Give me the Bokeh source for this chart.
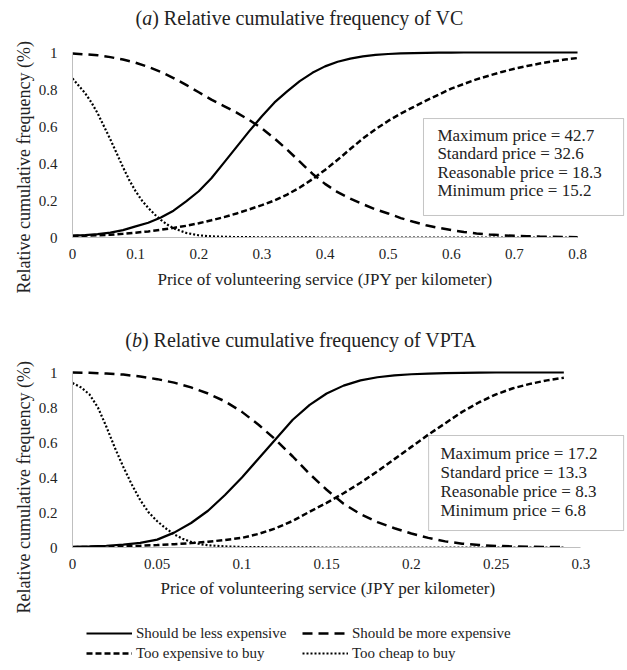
import math
from bokeh.plotting import figure
from bokeh.models import Range1d, FixedTicker, Label, BoxAnnotation, Legend, LegendItem, Title
from bokeh.layouts import column
from bokeh.embed import file_html
from bokeh.resources import INLINE

FONT = "Liberation Serif"
INK = "#222222"
AXIS_GRAY = "#bfbfbf"

# ---------------- data ----------------
series_names = ["Should be less expensive", "Should be more expensive",
                "Too expensive to buy", "Too cheap to buy"]
box_names = ["Maximum price", "Standard price", "Reasonable price", "Minimum price"]

# (a) VC
vc_title = "Relative cumulative frequency of VC"
vc_prices = [42.7, 32.6, 18.3, 15.2]
vc_x = [0.00, 0.02, 0.04, 0.06, 0.08, 0.10, 0.12, 0.14, 0.16, 0.18, 0.20,
        0.22, 0.24, 0.26, 0.28, 0.30, 0.32, 0.34, 0.36, 0.38, 0.40,
        0.42, 0.44, 0.46, 0.48, 0.50, 0.52, 0.54, 0.56, 0.58, 0.60,
        0.62, 0.64, 0.66, 0.68, 0.70, 0.72, 0.74, 0.76, 0.78, 0.80]
vc_less = [0.010, 0.013, 0.018, 0.026, 0.040, 0.060, 0.080, 0.108, 0.145, 0.195, 0.250,
           0.320, 0.405, 0.490, 0.575, 0.655, 0.730, 0.790, 0.845, 0.890, 0.925,
           0.950, 0.967, 0.979, 0.987, 0.992, 0.995, 0.997, 0.998, 0.999, 0.999,
           1.0, 1.0, 1.0, 1.0, 1.0, 1.0, 1.0, 1.0, 1.0, 1.0]
vc_more = [0.995, 0.990, 0.985, 0.975, 0.962, 0.945, 0.922, 0.895, 0.862, 0.825, 0.785,
           0.745, 0.710, 0.675, 0.635, 0.590, 0.535, 0.475, 0.410, 0.345, 0.290,
           0.245, 0.210, 0.180, 0.152, 0.130, 0.105, 0.085, 0.066, 0.052, 0.040,
           0.030, 0.022, 0.016, 0.012, 0.009, 0.007, 0.005, 0.004, 0.003, 0.002]
vc_exp = [0.008, 0.010, 0.012, 0.015, 0.020, 0.026, 0.033, 0.042, 0.052, 0.063, 0.077,
          0.093, 0.110, 0.130, 0.152, 0.175, 0.200, 0.232, 0.270, 0.315, 0.365,
          0.420, 0.478, 0.535, 0.585, 0.630, 0.670, 0.705, 0.740, 0.772, 0.805,
          0.830, 0.855, 0.875, 0.895, 0.912, 0.927, 0.940, 0.952, 0.962, 0.970]
vc_cheap_x = [0.00, 0.01, 0.02, 0.03, 0.04, 0.05, 0.06, 0.07, 0.08, 0.09, 0.10,
              0.11, 0.12, 0.13, 0.14, 0.15, 0.16, 0.18, 0.20, 0.22, 0.25,
              0.30, 0.40, 0.50, 0.60, 0.70, 0.80]
vc_cheap = [0.86, 0.82, 0.78, 0.73, 0.67, 0.60, 0.53, 0.455, 0.38, 0.31, 0.25,
            0.20, 0.16, 0.125, 0.095, 0.07, 0.05, 0.025, 0.012, 0.006, 0.003,
            0.001, 0.0, 0.0, 0.0, 0.0, 0.0]
vc_xticks = [0, 0.1, 0.2, 0.3, 0.4, 0.5, 0.6, 0.7, 0.8]
vc_xlabels = ["0", "0.1", "0.2", "0.3", "0.4", "0.5", "0.6", "0.7", "0.8"]

# (b) VPTA
vp_title = "Relative cumulative frequency of VPTA"
vp_prices = [17.2, 13.3, 8.3, 6.8]
vp_x = [0.00, 0.01, 0.02, 0.03, 0.04, 0.05, 0.06, 0.07, 0.08, 0.09,
        0.10, 0.11, 0.12, 0.13, 0.14, 0.15, 0.16, 0.17, 0.18, 0.19,
        0.20, 0.21, 0.22, 0.23, 0.24, 0.25, 0.26, 0.27, 0.28, 0.29]
vp_less = [0.004, 0.006, 0.010, 0.016, 0.026, 0.045, 0.085, 0.140, 0.210, 0.300,
           0.400, 0.510, 0.620, 0.730, 0.815, 0.880, 0.925, 0.955, 0.973, 0.984,
           0.990, 0.994, 0.996, 0.998, 0.999, 1.0, 1.0, 1.0, 1.0, 1.0]
vp_more = [1.000, 0.998, 0.994, 0.988, 0.977, 0.962, 0.942, 0.915, 0.880, 0.835,
           0.775, 0.700, 0.615, 0.520, 0.420, 0.330, 0.250, 0.190, 0.145, 0.110,
           0.080, 0.055, 0.035, 0.022, 0.014, 0.009, 0.006, 0.004, 0.003, 0.002]
vp_exp = [0.002, 0.003, 0.005, 0.007, 0.010, 0.014, 0.019, 0.025, 0.033, 0.043,
          0.055, 0.078, 0.110, 0.152, 0.205, 0.255, 0.310, 0.370, 0.435, 0.505,
          0.575, 0.645, 0.710, 0.775, 0.830, 0.875, 0.910, 0.935, 0.955, 0.970]
vp_cheap_x = [0.000, 0.005, 0.010, 0.015, 0.020, 0.025, 0.030, 0.035, 0.040, 0.045,
              0.050, 0.055, 0.060, 0.065, 0.070, 0.075, 0.080, 0.090, 0.100, 0.120,
              0.150, 0.200, 0.250, 0.290]
vp_cheap = [0.94, 0.915, 0.875, 0.80, 0.69, 0.57, 0.46, 0.36, 0.27, 0.20,
            0.15, 0.11, 0.075, 0.05, 0.032, 0.02, 0.013, 0.006, 0.003, 0.001,
            0.0, 0.0, 0.0, 0.0]
vp_xticks = [0, 0.05, 0.1, 0.15, 0.2, 0.25, 0.3]
vp_xlabels = ["0", "0.05", "0.1", "0.15", "0.2", "0.25", "0.3"]

yticks = [0, 0.2, 0.4, 0.6, 0.8, 1]
ylabels = ["0", "0.2", "0.4", "0.6", "0.8", "1"]

x_title = "Price of volunteering service (JPY per kilometer)"
y_title = "Relative cumulative frequency (%)"

STYLES = [
    dict(line_color="black", line_width=2.2),
    dict(line_color="black", line_width=2.5, line_dash="10 6"),
    dict(line_color="black", line_width=2.5, line_dash="6 3"),
    dict(line_color="black", line_width=2.2, line_dash="2 2"),
]


def style_axes(p, xticks, xlabels, xmax):
    p.xgrid.visible = False
    p.ygrid.visible = False
    p.outline_line_color = None
    for ax in (p.xaxis[0], p.yaxis[0]):
        ax.axis_line_color = AXIS_GRAY
        ax.axis_line_width = 1
        ax.major_tick_line_color = None
        ax.minor_tick_line_color = None
        ax.major_tick_out = 0
        ax.major_tick_in = 0
        ax.major_label_text_font = FONT
        ax.major_label_text_font_size = "15px"
        ax.major_label_text_color = INK
    p.xaxis.ticker = FixedTicker(ticks=xticks)
    p.xaxis.major_label_overrides = dict(zip(xticks, xlabels))
    p.xaxis.bounds = (0, xmax)
    p.xaxis.major_label_standoff = 11
    p.yaxis.ticker = FixedTicker(ticks=yticks)
    p.yaxis.major_label_overrides = dict(zip(yticks, ylabels))
    p.yaxis.bounds = (0, 1)
    p.yaxis.major_label_standoff = 15


def panel(height, left, x_end, y_end, bottom_border,
          curves, xticks, xlabels, xmax, letter, title, title_x, title_y,
          box, box_text_x, box_text_y, prices, xt_offset, xt_standoff, yt_offset):
    p = figure(width=627, height=height, title=None,
               x_range=Range1d(0, x_end), y_range=Range1d(0, y_end),
               min_border_left=left, min_border_right=2,
               min_border_top=0, min_border_bottom=bottom_border,
               output_backend="svg", toolbar_location=None)
    style_axes(p, xticks, xlabels, xmax)
    for (xs, ys), st in zip(curves, STYLES):
        p.line(xs, ys, **st)
    # panel title with italic letter
    common = dict(x=title_x, y=title_y, text_font=FONT, text_font_size="20px",
                  text_color=INK, text_baseline="middle", text_align="left")
    p.add_layout(Label(text="(", **common))
    p.add_layout(Label(text=letter, x_offset=6.7, text_font_style="italic", **common))
    p.add_layout(Label(text=") " + title, x_offset=16.7, **common))
    # axis titles
    p.add_layout(Title(text=x_title, align="left", offset=xt_offset, standoff=xt_standoff,
                       text_font=FONT, text_font_size="17px", text_font_style="normal",
                       text_color=INK), "below")
    p.add_layout(Title(text=y_title, align="left", offset=yt_offset, standoff=4,
                       text_font=FONT, text_font_size="18px", text_font_style="normal",
                       text_color=INK), "left")
    # price box
    p.add_layout(BoxAnnotation(left=box[0], right=box[1], bottom=box[2], top=box[3],
                               fill_color="white", fill_alpha=1.0,
                               line_color="#404040", line_width=1))
    for name, val, yy in zip(box_names, prices, box_text_y):
        p.add_layout(Label(x=box_text_x, y=yy, text=f"{name} = {val}", text_font=FONT,
                           text_font_size="17px", text_color=INK,
                           text_align="left", text_baseline="middle"))
    return p


pa = panel(300, 72, 0.876, 237 / 185, 63,
           [(vc_x, vc_less), (vc_x, vc_more), (vc_x, vc_exp), (vc_cheap_x, vc_cheap)],
           vc_xticks, vc_xlabels, 0.8, "a", vc_title, 0.0998, 1.184,
           (0.556, 0.873, 0.119, 0.643), 0.578, [0.551, 0.454, 0.351, 0.254],
           vc_prices, 85, 12, -56)

pb = panel(320, 69, 0.3264, 247 / 175, 73,
           [(vp_x, vp_less), (vp_x, vp_more), (vp_x, vp_exp), (vp_cheap_x, vp_cheap)],
           vp_xticks, vp_xlabels, 0.3, "b", vp_title, 0.0311, 1.183,
           (0.2102, 0.3253, 0.097, 0.640), 0.2172, [0.537, 0.429, 0.320, 0.211],
           vp_prices, 88, 10, -66)

# legend strip (its sample lines hold the series data but sit outside the visible range)
pl = figure(width=627, height=50, title=None, x_range=Range1d(10, 11), y_range=Range1d(10, 11),
            min_border=0, x_axis_type=None, y_axis_type=None,
            output_backend="svg", toolbar_location=None)
pl.xgrid.visible = False
pl.ygrid.visible = False
pl.outline_line_color = None
leg_src = [(vc_x, vc_less), (vc_x, vc_more), (vc_x, vc_exp), (vc_cheap_x, vc_cheap)]
rend = {}
for name, st, (xs, ys) in zip(series_names, STYLES, leg_src):
    rend[name] = pl.line(xs, ys, **st)
order = [series_names[0], series_names[2], series_names[1], series_names[3]]
items = [LegendItem(label=n, renderers=[rend[n]]) for n in order]
legend = Legend(items=items, ncols=2, location=(14, 7), glyph_width=46, glyph_height=20,
                label_height=20, label_width=166, label_standoff=4, spacing=0,
                padding=0, margin=0, border_line_color=None, background_fill_alpha=0,
                label_text_font=FONT, label_text_font_size="15px", label_text_color=INK)
pl.add_layout(legend)

layout = column(pa, pb, pl)
open("out.html", "w").write(file_html(layout, INLINE))
